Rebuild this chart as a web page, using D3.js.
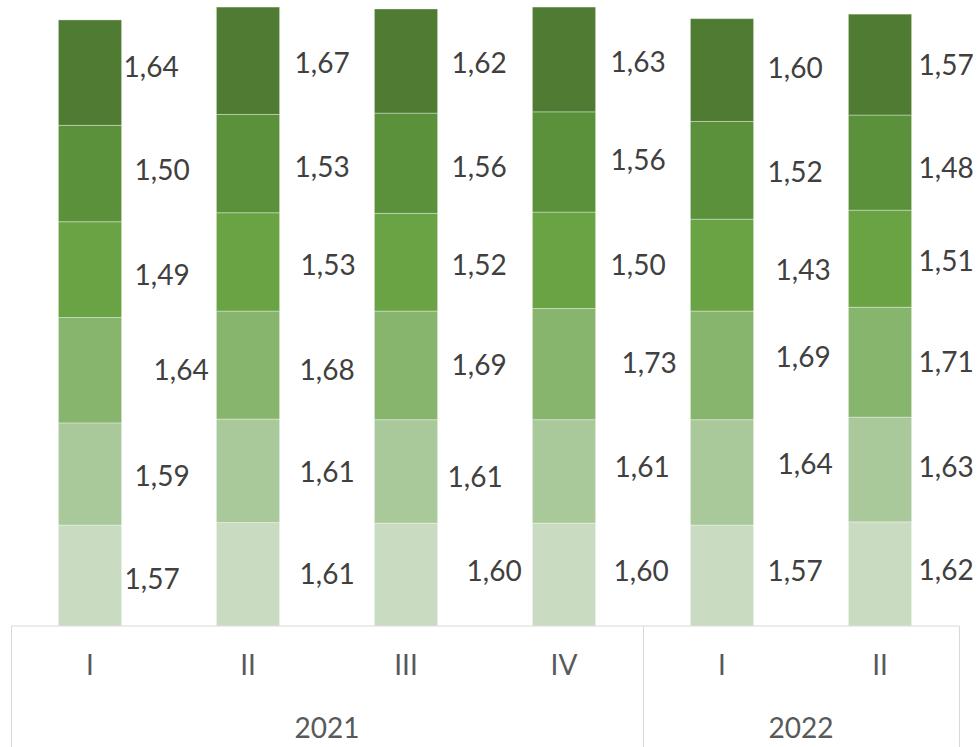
<!DOCTYPE html>
<html>
<head>
<meta charset="utf-8">
<script src="https://cdn.jsdelivr.net/npm/d3@7"></script>
<style>
  html, body { margin: 0; padding: 0; background: #fff; }
  svg { display: block; }
  text { font-family: Lato, "Open Sans", sans-serif; }
</style>
</head>
<body>
<svg id="chart" width="979" height="747"></svg>
<script>
// categories (quarter within year)
const quarters = ["I", "II", "III", "IV", "I", "II"];
const years = ["2021", "2021", "2021", "2021", "2022", "2022"];

// series, bottom to top of the stack
const s1 = [1.57, 1.61, 1.60, 1.60, 1.57, 1.62];
const s2 = [1.59, 1.61, 1.61, 1.61, 1.64, 1.63];
const s3 = [1.64, 1.68, 1.69, 1.73, 1.69, 1.71];
const s4 = [1.49, 1.53, 1.52, 1.50, 1.43, 1.51];
const s5 = [1.50, 1.53, 1.56, 1.56, 1.52, 1.48];
const s6 = [1.64, 1.67, 1.62, 1.63, 1.60, 1.57];

const series = [s1, s2, s3, s4, s5, s6];
const colors = ["#c9dcc1", "#a9c99b", "#87b56d", "#69a343", "#5b913b", "#4f7c32"];

// hand-placed label nudges (per bar, per series) as in the original
const labelDx = [
  [3, 13, 32, 13, 13, 2],
  [20, 20, 20, 21, 15, 15],
  [29, 10, 14, 14, 14, 14],
  [18, 19, 26, 15, 15, 15],
  [14, 24, 22, 22, 14, 14],
  [7, 7, 7, 7, 7, 7],
];
const labelDy = [
  [4, 2, 0, 6, -3, -5],
  [0, 1, 5, 3, 4, 2],
  [-3, 6, 0, 3, 4, 2],
  [-3, -4, -1, 5, -2, 3],
  [-4, -8, -8, 5, 2, -2],
  [-4, -2, 0, 3, 6, 1],
];

const svg = d3.select("#chart");
const plot = { left: 11, right: 959, base: 626, bottom: 747 };

const x = d3.scaleBand(d3.range(quarters.length), [plot.left, plot.right])
  .paddingInner(0.6)
  .paddingOuter(0.3);
const y = d3.scaleLinear([0, 9.74], [plot.base, 0]);

const rows = quarters.map((q, i) => {
  const r = { i };
  series.forEach((s, k) => (r["s" + k] = s[i]));
  return r;
});
const stack = d3.stack().keys(series.map((s, k) => "s" + k))(rows);

const fmt = (v) => v.toFixed(2).replace(".", ",");

// bars
svg.append("g")
  .selectAll("g")
  .data(stack)
  .join("g")
  .attr("fill", (d, k) => colors[k])
  .selectAll("rect")
  .data((d) => d)
  .join("rect")
  .attr("x", (d) => x(d.data.i))
  .attr("width", x.bandwidth())
  .attr("y", (d) => y(d[1]))
  .attr("height", (d) => y(d[0]) - y(d[1]))
  .attr("stroke", "#ffffff")
  .attr("stroke-opacity", 0.35)
  .attr("stroke-width", 1);

// labels
svg.append("g")
  .selectAll("g")
  .data(stack)
  .join("g")
  .each(function (layer, k) {
    d3.select(this)
      .selectAll("text")
      .data(layer)
      .join("text")
      .attr("x", (d) => x(d.data.i) + x.bandwidth() + labelDx[d.data.i][k])
      .attr("y", (d) => (y(d[0]) + y(d[1])) / 2 + labelDy[d.data.i][k])
      .attr("dy", "0.35em")
      .attr("font-size", 28)
      .attr("fill", "#404040")
      .text((d) => fmt(d[1] - d[0]));
  });

// category axis with grouped years
const axis = svg.append("g").attr("stroke", "#d9d9d9").attr("stroke-width", 1);
axis.append("line")
  .attr("x1", plot.left).attr("x2", plot.right)
  .attr("y1", plot.base).attr("y2", plot.base);

const groups = d3.groups(quarters.map((q, i) => i), (i) => years[i]);
const step = x.step();
// group boundaries at the category edges
const groupEdges = [plot.left].concat(groups.map(([yr, idx]) => plot.left + step * (idx[idx.length - 1] + 1)));
axis.selectAll(".sep")
  .data(groupEdges)
  .join("line")
  .attr("class", "sep")
  .attr("x1", (d) => Math.round(d) + 0.5).attr("x2", (d) => Math.round(d) + 0.5)
  .attr("y1", plot.base).attr("y2", plot.bottom);

svg.append("g")
  .selectAll("text")
  .data(quarters)
  .join("text")
  .attr("x", (d, i) => x(i) + x.bandwidth() / 2)
  .attr("y", 665)
  .attr("dy", "0.35em")
  .attr("text-anchor", "middle")
  .attr("font-size", 28)
  .attr("fill", "#595959")
  .text((d) => d);

svg.append("g")
  .selectAll("text")
  .data(groups)
  .join("text")
  .attr("x", ([yr, idx]) => plot.left + step * (idx[0] + idx[idx.length - 1] + 1) / 2)
  .attr("y", 728)
  .attr("dy", "0.35em")
  .attr("text-anchor", "middle")
  .attr("font-size", 28)
  .attr("fill", "#595959")
  .text(([yr]) => yr);
</script>
</body>
</html>
